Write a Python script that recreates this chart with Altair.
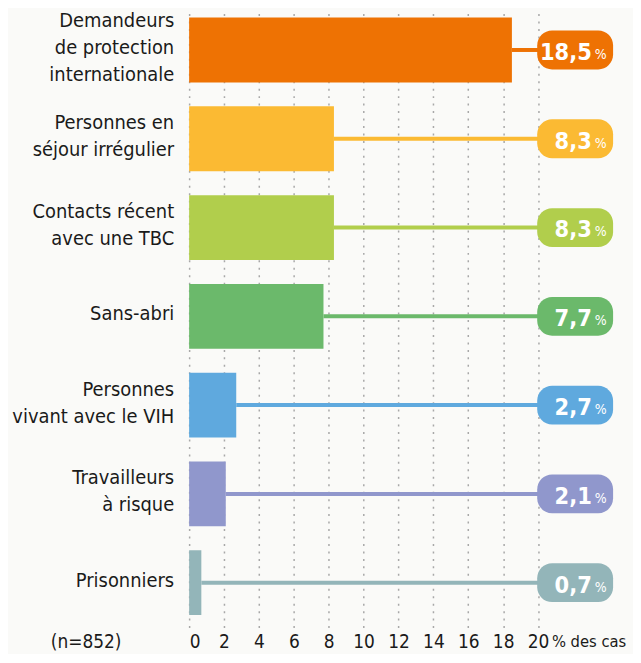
import altair as alt
import pandas as pd

categories = [
    "Demandeurs\nde protection\ninternationale",
    "Personnes en\nséjour irrégulier",
    "Contacts récent\navec une TBC",
    "Sans-abri",
    "Personnes\nvivant avec le VIH",
    "Travailleurs\nà risque",
    "Prisonniers",
]
values = [18.5, 8.3, 8.3, 7.7, 2.7, 2.1, 0.7]
colors = ["#EE7203", "#FBBA33", "#B1CE4C", "#6BB96B", "#5FA9DE", "#9097CC", "#93B5B9"]
x_ticks = [0, 2, 4, 6, 8, 10, 12, 14, 16, 18, 20]

df = pd.DataFrame({
    "cat": categories,
    "value": values,
    "color": colors,
})
df["label"] = df["value"].map(lambda v: f"{v:.1f}".replace(".", ","))
df["nlines"] = df["cat"].map(lambda s: s.count("\n") + 1)

FONT = "DejaVu Sans Condensed"
W, H = 426, 620
LH = 27

y_enc = alt.Y(
    "cat:N",
    sort=categories,
    scale=alt.Scale(paddingInner=0.27, paddingOuter=0.11, align=0.36),
    axis=alt.Axis(
        labels=False, ticks=False, domain=False, grid=False,
        title="(n=852)", titleAngle=0, titleX=-104, titleY=H + 5,
        titleAlign="center", titleBaseline="top", titleFont=FONT,
        titleFontSize=19, titleFontWeight="normal", titleColor="#1a1a1a",
    ),
)
y_plain = alt.Y("cat:N", sort=categories)
x_scale = alt.Scale(domain=[0, 24.3], nice=False, zero=True)
color_enc = alt.Color("color:N", scale=None)

base = alt.Chart(df)

bars = base.mark_bar().encode(
    x=alt.X(
        "value:Q",
        scale=x_scale,
        axis=alt.Axis(
            values=x_ticks, grid=True, gridDash=[2, 5.5], gridColor="#a8a8a8",
            gridWidth=1.5, domain=False, ticks=False, labelFont=FONT,
            labelFontSize=19, labelColor="#1a1a1a", labelPadding=5,
            title="% des cas", titleX=364, titleY=6, titleAlign="left",
            titleBaseline="top", titleFont=FONT, titleFontSize=16.5,
            titleFontWeight="normal", titleColor="#1a1a1a",
        ),
    ),
    x2=alt.datum(0),
    y=y_enc,
    color=color_enc,
)

rules = base.mark_rule(strokeWidth=4).encode(
    x=alt.X("value:Q", scale=x_scale),
    x2=alt.datum(20),
    y=y_plain,
    color=color_enc,
)

badges = base.mark_bar(height=39, cornerRadius=15).encode(
    x=alt.datum(19.95),
    x2=alt.datum(24.3),
    y=y_plain,
    color=color_enc,
)

nums = base.mark_text(
    align="right", baseline="alphabetic", dy=10, font=FONT,
    fontSize=23.5, fontWeight="bold", color="white",
).encode(
    x=alt.datum(23.08),
    y=y_plain,
    text="label:N",
)

pct = base.mark_text(
    align="left", baseline="alphabetic", dy=9, dx=3, font=FONT,
    fontSize=14, color="white",
).encode(
    x=alt.datum(23.08),
    y=y_plain,
    text=alt.value("%"),
)

label_layers = []
for n in (1, 2, 3):
    label_layers.append(
        base.transform_filter(alt.datum.nlines == n).mark_text(
            align="right", baseline="middle", lineBreak="\n", lineHeight=LH,
            dy=-(n - 1) * LH / 2 - 2, font=FONT, fontSize=20, color="#1a1a1a",
        ).encode(
            x=alt.value(-15),
            y=y_plain,
            text="cat:N",
        )
    )

chart = alt.layer(bars, rules, badges, nums, pct, *label_layers).properties(
    width=W, height=H,
    autosize=alt.AutoSizeParams(type="none"),
    padding={"left": 182, "top": 1, "right": 20, "bottom": 25},
    background="#FAFAF8",
).configure_view(stroke=None)

chart.save("out.html", embed_options={"renderer": "svg", "actions": False})
